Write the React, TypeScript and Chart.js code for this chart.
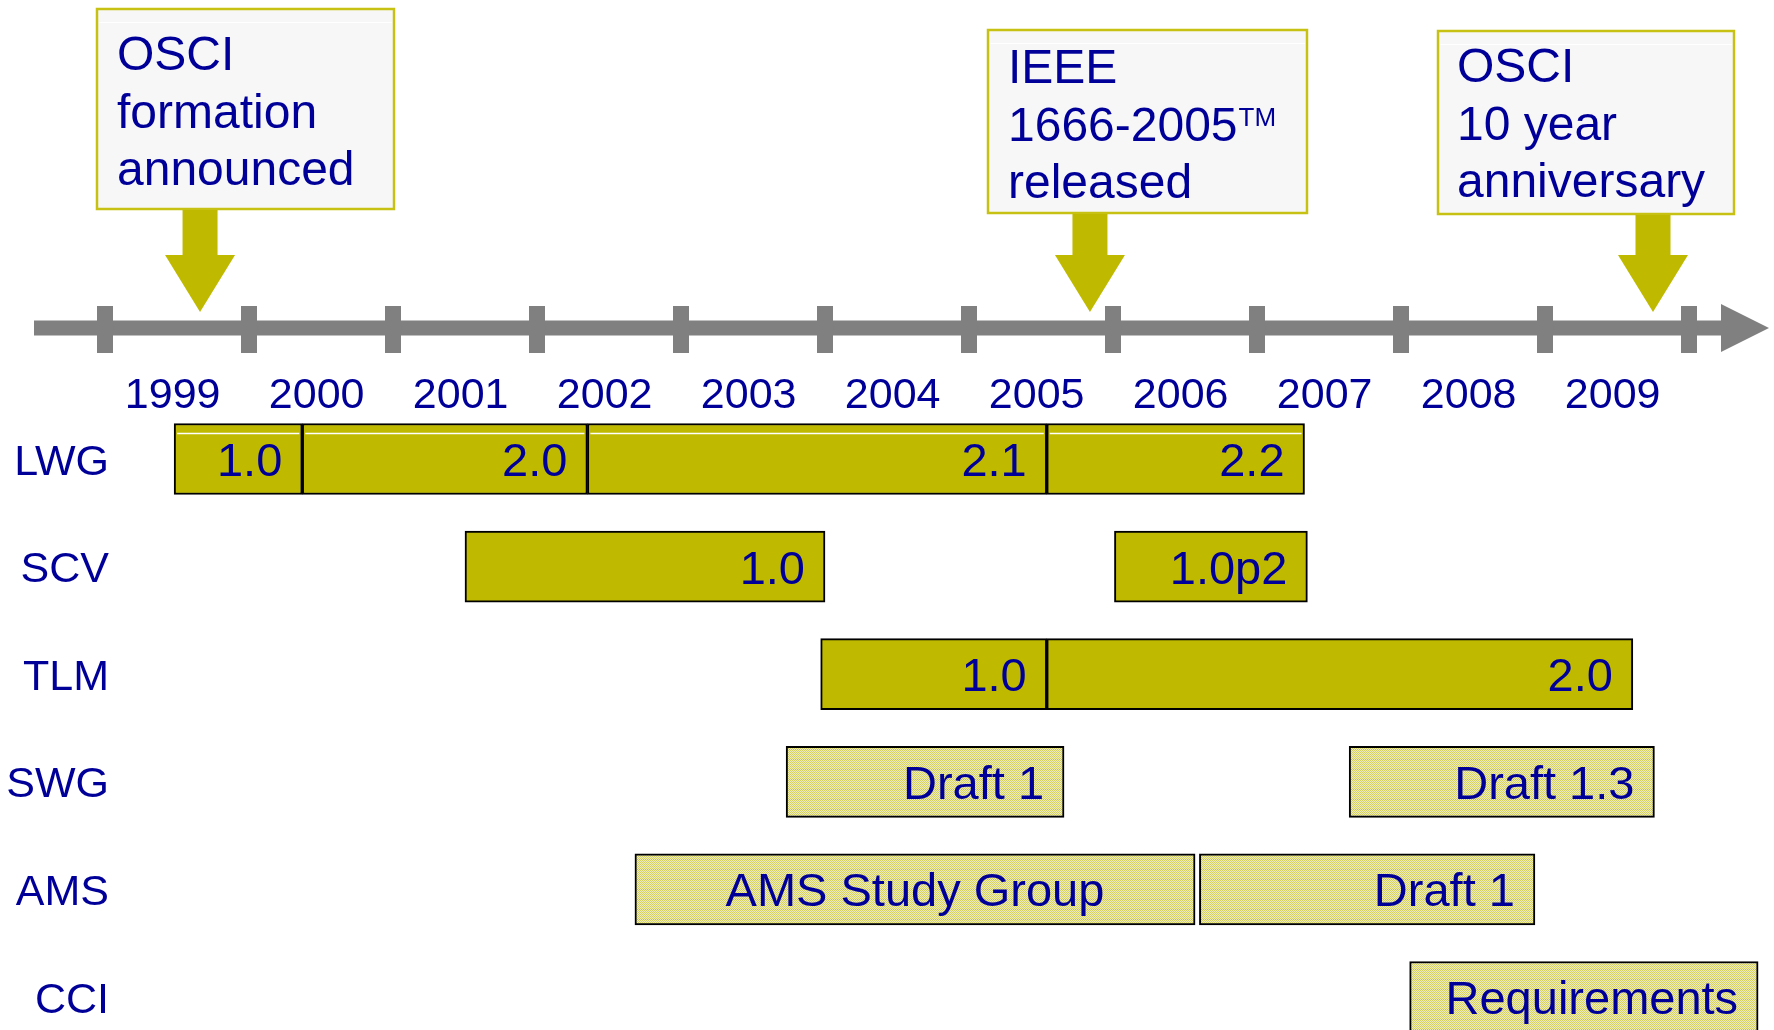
import React, { useEffect, useRef } from 'react';
import { Chart, registerables } from 'chart.js';

Chart.register(...registerables);

// ---------- data ----------
const groups = ['LWG', 'SCV', 'TLM', 'SWG', 'AMS', 'CCI'];
const groupStatus = ['released', 'released', 'released', 'draft', 'draft', 'draft'];
const yearLabels = ['1999', '2000', '2001', '2002', '2003', '2004', '2005', '2006', '2007', '2008', '2009'];
const yearTicks = [1999, 2000, 2001, 2002, 2003, 2004, 2005, 2006, 2007, 2008, 2009, 2010];

const seg1 = [[1999.48, 2000.37], [2001.5, 2004.0], [2003.97, 2005.54], [2003.73, 2005.66], [2002.68, 2006.57], [2008.06, 2010.48]];
const seg1Labels = ['1.0', '1.0', '1.0', 'Draft 1', 'AMS Study Group', 'Requirements'];
const seg2 = [[2000.37, 2002.35], [2006.01, 2007.35], [2005.54, 2009.61], [2007.64, 2009.76], [2006.6, 2008.93], null];
const seg2Labels = ['2.0', '1.0p2', '2.0', 'Draft 1.3', 'Draft 1', ''];
const seg3 = [[2002.35, 2005.54], null, null, null, null, null];
const seg3Labels = ['2.1', '', '', '', '', ''];
const seg4 = [[2005.54, 2007.33], null, null, null, null, null];
const seg4Labels = ['2.2', '', '', '', '', ''];
const centeredLabels = ['AMS Study Group'];

const milestoneYears = [1999.66, 2005.84, 2009.75];
const milestoneText = [
  ['OSCI', 'formation', 'announced'],
  ['IEEE', '1666-2005™', 'released'],
  ['OSCI', '10 year', 'anniversary'],
];

// ---------- styles / layout ----------
const W = 1774;
const H = 1030;
const FONT = '"Liberation Sans", Arial, sans-serif';
const TEXT_BLUE = '#000099';
const OLIVE = '#BFBA00';
const BOX_BORDER = '#C6C112';
const AXIS_GRAY = '#808080';
const calloutLayout = [
  { x0: 97, x1: 394, y0: 9, y1: 209, baseline: 70, pad: 20 },
  { x0: 988, x1: 1307, y0: 30, y1: 213, baseline: 83, pad: 20 },
  { x0: 1438, x1: 1734, y0: 31, y1: 214, baseline: 82, pad: 19 },
];

function makePattern(): CanvasPattern | string {
  const c = document.createElement('canvas');
  c.width = 10;
  c.height = 10;
  const g = c.getContext('2d');
  if (!g) return '#E4E193';
  g.fillStyle = '#EFEDBE';
  g.fillRect(0, 0, 10, 10);
  for (let y = 0; y < 10; y++) {
    for (let x = 0; x < 10; x++) {
      if ((x + y) % 2 === 0) {
        g.fillStyle = y === 9 ? '#C4BF30' : '#D4D062';
        g.fillRect(x, y, 1, 1);
      }
    }
  }
  const p = g.createPattern(c, 'repeat');
  return p || '#E4E193';
}

export default function App() {
  const ref = useRef<HTMLCanvasElement | null>(null);

  useEffect(() => {
    document.body.style.margin = '0';
    const canvas = ref.current;
    if (!canvas) return;
    const pattern = makePattern();

    const segs = [seg1, seg2, seg3, seg4];
    const segLabels = [seg1Labels, seg2Labels, seg3Labels, seg4Labels];

    const overlay = {
      id: 'timelineOverlay',
      beforeDatasetsDraw(chart: any) {
        const ctx = chart.ctx;
        const xs = chart.scales.x;
        const ys = chart.scales.y;
        ctx.save();
        // timeline axis
        const axisY = 328;
        const startX = xs.getPixelForValue(1999) - 71;
        const arrowBase = xs.getPixelForValue(2010) + 32;
        ctx.fillStyle = AXIS_GRAY;
        ctx.fillRect(startX, axisY - 7.5, arrowBase - startX, 15);
        yearTicks.forEach((yr) => {
          const px = xs.getPixelForValue(yr);
          ctx.fillRect(px - 8, axisY - 22, 16, 47);
        });
        ctx.beginPath();
        ctx.moveTo(arrowBase, axisY - 24);
        ctx.lineTo(arrowBase, axisY + 24);
        ctx.lineTo(arrowBase + 48, axisY);
        ctx.closePath();
        ctx.fill();

        // year labels
        ctx.fillStyle = TEXT_BLUE;
        ctx.font = `43px ${FONT}`;
        ctx.textAlign = 'center';
        ctx.textBaseline = 'alphabetic';
        yearLabels.forEach((lbl, i) => {
          const px = xs.getPixelForValue(yearTicks[i] + 0.47);
          ctx.fillText(lbl, px, 408);
        });

        // row labels
        ctx.font = `43px ${FONT}`;
        ctx.textAlign = 'right';
        groups.forEach((g, i) => {
          const py = ys.getPixelForValue(i);
          ctx.fillText(g, 109, py + 15.5);
        });

        // callouts
        milestoneYears.forEach((yr, i) => {
          const L = calloutLayout[i];
          const ax = xs.getPixelForValue(yr);
          ctx.fillStyle = '#F7F7F7';
          ctx.fillRect(L.x0, L.y0, L.x1 - L.x0, L.y1 - L.y0);
          ctx.strokeStyle = BOX_BORDER;
          ctx.lineWidth = 2.5;
          ctx.strokeRect(L.x0, L.y0, L.x1 - L.x0, L.y1 - L.y0);
          ctx.strokeStyle = '#FFFFFF';
          ctx.lineWidth = 1;
          ctx.beginPath();
          ctx.moveTo(L.x0 + 2, L.y0 + 13.5);
          ctx.lineTo(L.x1 - 2, L.y0 + 13.5);
          ctx.stroke();

          // arrow
          ctx.fillStyle = OLIVE;
          ctx.fillRect(ax - 17.5, L.y1 + 1, 35, 256 - L.y1);
          ctx.beginPath();
          ctx.moveTo(ax - 35, 255);
          ctx.lineTo(ax + 35, 255);
          ctx.lineTo(ax, 312);
          ctx.closePath();
          ctx.fill();

          // text
          ctx.fillStyle = TEXT_BLUE;
          ctx.textAlign = 'left';
          milestoneText[i].forEach((line, k) => {
            const by = L.baseline + k * 57.5;
            const parts = line.split('™');
            ctx.font = `48px ${FONT}`;
            ctx.fillText(parts[0], L.x0 + L.pad, by);
            if (parts.length > 1) {
              const w = ctx.measureText(parts[0]).width;
              ctx.font = `26px ${FONT}`;
              ctx.fillText('TM', L.x0 + L.pad + w + 1, by - 15);
            }
          });
        });
        ctx.restore();
      },
      afterDatasetsDraw(chart: any) {
        const ctx = chart.ctx;
        ctx.save();
        ctx.fillStyle = TEXT_BLUE;
        ctx.font = `47px ${FONT}`;
        ctx.textBaseline = 'alphabetic';
        segs.forEach((_, d) => {
          const meta = chart.getDatasetMeta(d);
          meta.data.forEach((el: any, i: number) => {
            const label = segLabels[d][i];
            if (!label || segs[d][i] == null) return;
            const p = el.getProps(['x', 'y', 'base', 'height'], true);
            const left = Math.min(p.x, p.base);
            const right = Math.max(p.x, p.base);
            // highlight line on LWG bar
            if (i === 0) {
              ctx.strokeStyle = '#FFFFFF';
              ctx.lineWidth = 1.5;
              ctx.beginPath();
              ctx.moveTo(left + 3, p.y - p.height / 2 + 10);
              ctx.lineTo(right - 3, p.y - p.height / 2 + 10);
              ctx.stroke();
            }
            if (centeredLabels.includes(label)) {
              ctx.textAlign = 'center';
              ctx.fillText(label, (left + right) / 2, p.y + 17);
            } else {
              ctx.textAlign = 'right';
              ctx.fillText(label, right - 20, p.y + 17);
            }
          });
        });
        ctx.restore();
      },
    };

    const bg = (c: any) => (groupStatus[c.dataIndex] === 'draft' ? pattern : OLIVE);

    const chart = new Chart(canvas, {
      type: 'bar',
      data: {
        labels: groups,
        datasets: segs.map((s, d) => ({
          label: `segment ${d + 1}`,
          data: s as any,
          backgroundColor: bg as any,
          borderColor: '#000000',
          borderWidth: 2,
          borderSkipped: false,
          barThickness: 71,
          grouped: false,
          clip: false as any,
        })),
      },
      options: {
        indexAxis: 'y',
        animation: false,
        responsive: false,
        devicePixelRatio: 1,
        layout: { padding: { left: 105, right: W - 1689, top: 459, bottom: H - 997 } },
        scales: {
          x: { type: 'linear', min: 1999, max: 2010, display: false },
          y: { type: 'category', offset: false, display: false, grid: { display: false } },
        },
        plugins: {
          legend: { display: false },
          tooltip: { enabled: false },
        },
      },
      plugins: [overlay],
    });

    return () => chart.destroy();
  }, []);

  return (
    <div style={{ width: W, height: H, background: '#FFFFFF' }}>
      <canvas ref={ref} width={W} height={H} style={{ display: 'block', width: W, height: H }} />
    </div>
  );
}
